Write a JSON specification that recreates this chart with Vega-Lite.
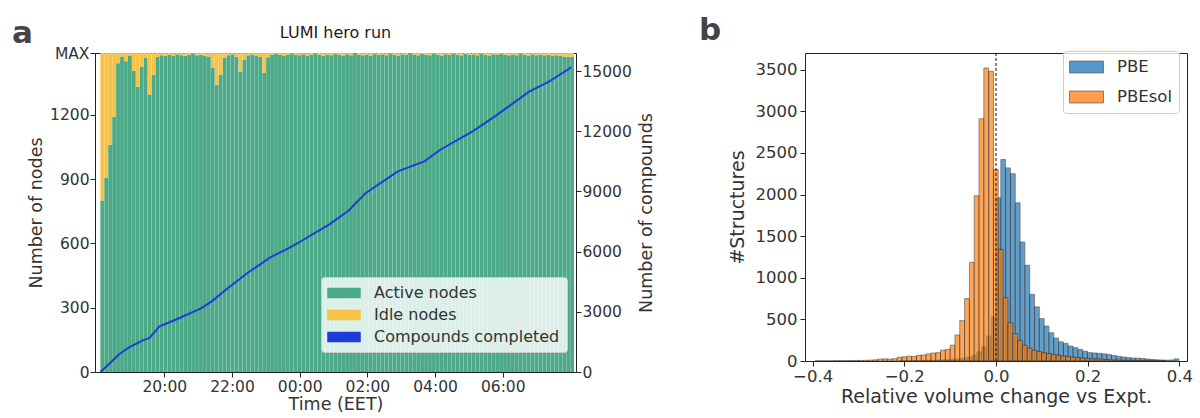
{
  "$schema": "https://vega.github.io/schema/vega-lite/v6.json",
  "background": "white",
  "padding": {"left": 12, "top": 14, "right": 5, "bottom": 0},
  "spacing": 42,
  "resolve": {"scale": {"color": "independent"}, "legend": {"color": "independent"}},
  "config": {
    "font": "DejaVu Sans",
    "view": {"stroke": "#222222", "strokeWidth": 1},
    "axis": {
      "domain": false, "grid": false, "tickColor": "#222222", "tickSize": 5, "tickWidth": 1,
      "labelFont": "DejaVu Sans", "labelColor": "#333333", "titleFont": "DejaVu Sans",
      "titleColor": "#333333", "titleFontWeight": "normal", "labelPadding": 3
    },
    "title": {"font": "DejaVu Sans", "color": "#222222", "fontWeight": "normal", "fontSize": 16},
    "legend": {"labelFont": "DejaVu Sans", "labelColor": "#333333"}
  },
  "datasets": {
    "nodes": [
      {"time": "2024-05-10T18:10", "active": 800, "idle": 688},
      {"time": "2024-05-10T18:17", "active": 905, "idle": 583},
      {"time": "2024-05-10T18:24", "active": 1060, "idle": 428},
      {"time": "2024-05-10T18:31", "active": 1190, "idle": 298},
      {"time": "2024-05-10T18:38", "active": 1440, "idle": 48},
      {"time": "2024-05-10T18:45", "active": 1472, "idle": 16},
      {"time": "2024-05-10T18:52", "active": 1450, "idle": 38},
      {"time": "2024-05-10T18:59", "active": 1476, "idle": 12},
      {"time": "2024-05-10T19:06", "active": 1405, "idle": 83},
      {"time": "2024-05-10T19:13", "active": 1330, "idle": 158},
      {"time": "2024-05-10T19:20", "active": 1425, "idle": 63},
      {"time": "2024-05-10T19:27", "active": 1465, "idle": 23},
      {"time": "2024-05-10T19:34", "active": 1295, "idle": 193},
      {"time": "2024-05-10T19:41", "active": 1385, "idle": 103},
      {"time": "2024-05-10T19:48", "active": 1470, "idle": 18},
      {"time": "2024-05-10T19:55", "active": 1478, "idle": 10},
      {"time": "2024-05-10T20:02", "active": 1474, "idle": 14},
      {"time": "2024-05-10T20:09", "active": 1480, "idle": 8},
      {"time": "2024-05-10T20:16", "active": 1476, "idle": 12},
      {"time": "2024-05-10T20:23", "active": 1482, "idle": 6},
      {"time": "2024-05-10T20:30", "active": 1478, "idle": 10},
      {"time": "2024-05-10T20:37", "active": 1475, "idle": 13},
      {"time": "2024-05-10T20:44", "active": 1480, "idle": 8},
      {"time": "2024-05-10T20:51", "active": 1484, "idle": 4},
      {"time": "2024-05-10T20:58", "active": 1477, "idle": 11},
      {"time": "2024-05-10T21:05", "active": 1480, "idle": 8},
      {"time": "2024-05-10T21:12", "active": 1476, "idle": 12},
      {"time": "2024-05-10T21:19", "active": 1472, "idle": 16},
      {"time": "2024-05-10T21:26", "active": 1420, "idle": 68},
      {"time": "2024-05-10T21:33", "active": 1340, "idle": 148},
      {"time": "2024-05-10T21:40", "active": 1385, "idle": 103},
      {"time": "2024-05-10T21:47", "active": 1466, "idle": 22},
      {"time": "2024-05-10T21:54", "active": 1478, "idle": 10},
      {"time": "2024-05-10T22:01", "active": 1482, "idle": 6},
      {"time": "2024-05-10T22:08", "active": 1470, "idle": 18},
      {"time": "2024-05-10T22:15", "active": 1400, "idle": 88},
      {"time": "2024-05-10T22:22", "active": 1455, "idle": 33},
      {"time": "2024-05-10T22:29", "active": 1478, "idle": 10},
      {"time": "2024-05-10T22:36", "active": 1481, "idle": 7},
      {"time": "2024-05-10T22:43", "active": 1476, "idle": 12},
      {"time": "2024-05-10T22:50", "active": 1470, "idle": 18},
      {"time": "2024-05-10T22:57", "active": 1395, "idle": 93},
      {"time": "2024-05-10T23:04", "active": 1468, "idle": 20},
      {"time": "2024-05-10T23:11", "active": 1479, "idle": 9},
      {"time": "2024-05-10T23:18", "active": 1483, "idle": 5},
      {"time": "2024-05-10T23:25", "active": 1480, "idle": 8},
      {"time": "2024-05-10T23:32", "active": 1476, "idle": 12},
      {"time": "2024-05-10T23:39", "active": 1479, "idle": 9},
      {"time": "2024-05-10T23:46", "active": 1484, "idle": 4},
      {"time": "2024-05-10T23:53", "active": 1480, "idle": 8},
      {"time": "2024-05-11T00:00", "active": 1478, "idle": 10},
      {"time": "2024-05-11T00:07", "active": 1482, "idle": 6},
      {"time": "2024-05-11T00:14", "active": 1476, "idle": 12},
      {"time": "2024-05-11T00:21", "active": 1480, "idle": 8},
      {"time": "2024-05-11T00:28", "active": 1484, "idle": 4},
      {"time": "2024-05-11T00:35", "active": 1479, "idle": 9},
      {"time": "2024-05-11T00:42", "active": 1474, "idle": 14},
      {"time": "2024-05-11T00:49", "active": 1481, "idle": 7},
      {"time": "2024-05-11T00:56", "active": 1477, "idle": 11},
      {"time": "2024-05-11T01:03", "active": 1483, "idle": 5},
      {"time": "2024-05-11T01:10", "active": 1480, "idle": 8},
      {"time": "2024-05-11T01:17", "active": 1476, "idle": 12},
      {"time": "2024-05-11T01:24", "active": 1482, "idle": 6},
      {"time": "2024-05-11T01:31", "active": 1478, "idle": 10},
      {"time": "2024-05-11T01:38", "active": 1485, "idle": 3},
      {"time": "2024-05-11T01:45", "active": 1480, "idle": 8},
      {"time": "2024-05-11T01:52", "active": 1477, "idle": 11},
      {"time": "2024-05-11T01:59", "active": 1481, "idle": 7},
      {"time": "2024-05-11T02:06", "active": 1476, "idle": 12},
      {"time": "2024-05-11T02:13", "active": 1483, "idle": 5},
      {"time": "2024-05-11T02:20", "active": 1479, "idle": 9},
      {"time": "2024-05-11T02:27", "active": 1482, "idle": 6},
      {"time": "2024-05-11T02:34", "active": 1478, "idle": 10},
      {"time": "2024-05-11T02:41", "active": 1484, "idle": 4},
      {"time": "2024-05-11T02:48", "active": 1480, "idle": 8},
      {"time": "2024-05-11T02:55", "active": 1476, "idle": 12},
      {"time": "2024-05-11T03:02", "active": 1482, "idle": 6},
      {"time": "2024-05-11T03:09", "active": 1479, "idle": 9},
      {"time": "2024-05-11T03:16", "active": 1485, "idle": 3},
      {"time": "2024-05-11T03:23", "active": 1481, "idle": 7},
      {"time": "2024-05-11T03:30", "active": 1477, "idle": 11},
      {"time": "2024-05-11T03:37", "active": 1483, "idle": 5},
      {"time": "2024-05-11T03:44", "active": 1480, "idle": 8},
      {"time": "2024-05-11T03:51", "active": 1478, "idle": 10},
      {"time": "2024-05-11T03:58", "active": 1484, "idle": 4},
      {"time": "2024-05-11T04:05", "active": 1481, "idle": 7},
      {"time": "2024-05-11T04:12", "active": 1476, "idle": 12},
      {"time": "2024-05-11T04:19", "active": 1482, "idle": 6},
      {"time": "2024-05-11T04:26", "active": 1479, "idle": 9},
      {"time": "2024-05-11T04:33", "active": 1484, "idle": 4},
      {"time": "2024-05-11T04:40", "active": 1480, "idle": 8},
      {"time": "2024-05-11T04:47", "active": 1477, "idle": 11},
      {"time": "2024-05-11T04:54", "active": 1483, "idle": 5},
      {"time": "2024-05-11T05:01", "active": 1479, "idle": 9},
      {"time": "2024-05-11T05:08", "active": 1482, "idle": 6},
      {"time": "2024-05-11T05:15", "active": 1478, "idle": 10},
      {"time": "2024-05-11T05:22", "active": 1484, "idle": 4},
      {"time": "2024-05-11T05:29", "active": 1480, "idle": 8},
      {"time": "2024-05-11T05:36", "active": 1476, "idle": 12},
      {"time": "2024-05-11T05:43", "active": 1482, "idle": 6},
      {"time": "2024-05-11T05:50", "active": 1479, "idle": 9},
      {"time": "2024-05-11T05:57", "active": 1483, "idle": 5},
      {"time": "2024-05-11T06:04", "active": 1480, "idle": 8},
      {"time": "2024-05-11T06:11", "active": 1477, "idle": 11},
      {"time": "2024-05-11T06:18", "active": 1481, "idle": 7},
      {"time": "2024-05-11T06:25", "active": 1478, "idle": 10},
      {"time": "2024-05-11T06:32", "active": 1484, "idle": 4},
      {"time": "2024-05-11T06:39", "active": 1480, "idle": 8},
      {"time": "2024-05-11T06:46", "active": 1476, "idle": 12},
      {"time": "2024-05-11T06:53", "active": 1482, "idle": 6},
      {"time": "2024-05-11T07:00", "active": 1478, "idle": 10},
      {"time": "2024-05-11T07:07", "active": 1481, "idle": 7},
      {"time": "2024-05-11T07:14", "active": 1477, "idle": 11},
      {"time": "2024-05-11T07:21", "active": 1480, "idle": 8},
      {"time": "2024-05-11T07:28", "active": 1476, "idle": 12},
      {"time": "2024-05-11T07:35", "active": 1478, "idle": 10},
      {"time": "2024-05-11T07:42", "active": 1474, "idle": 14},
      {"time": "2024-05-11T07:49", "active": 1472, "idle": 16},
      {"time": "2024-05-11T07:56", "active": 1470, "idle": 18},
      {"time": "2024-05-11T08:03", "active": 1471, "idle": 17}
    ],
    "compounds": [
      {"time": "2024-05-10T18:07", "completed": 0},
      {"time": "2024-05-10T18:41", "completed": 910},
      {"time": "2024-05-10T18:59", "completed": 1250},
      {"time": "2024-05-10T19:22", "completed": 1580},
      {"time": "2024-05-10T19:34", "completed": 1700},
      {"time": "2024-05-10T19:51", "completed": 2260},
      {"time": "2024-05-10T20:26", "completed": 2680},
      {"time": "2024-05-10T21:06", "completed": 3180},
      {"time": "2024-05-10T21:24", "completed": 3520},
      {"time": "2024-05-10T21:53", "completed": 4190},
      {"time": "2024-05-10T22:28", "completed": 4950},
      {"time": "2024-05-10T23:08", "completed": 5710},
      {"time": "2024-05-10T23:43", "completed": 6210},
      {"time": "2024-05-11T00:00", "completed": 6480},
      {"time": "2024-05-11T00:52", "completed": 7350},
      {"time": "2024-05-11T01:27", "completed": 8050},
      {"time": "2024-05-11T01:56", "completed": 8900},
      {"time": "2024-05-11T02:54", "completed": 10000},
      {"time": "2024-05-11T03:41", "completed": 10500},
      {"time": "2024-05-11T04:10", "completed": 11090},
      {"time": "2024-05-11T05:08", "completed": 12020},
      {"time": "2024-05-11T05:48", "completed": 12780},
      {"time": "2024-05-11T06:46", "completed": 13960},
      {"time": "2024-05-11T07:21", "completed": 14460},
      {"time": "2024-05-11T07:59", "completed": 15140},
      {"time": "2024-05-11T08:01", "completed": 15200}
    ],
    "volume": [
      {"functional": "PBE", "bin_start": -0.21, "bin_end": -0.1995, "count": 3},
      {"functional": "PBE", "bin_start": -0.1995, "bin_end": -0.189, "count": 4},
      {"functional": "PBE", "bin_start": -0.189, "bin_end": -0.1785, "count": 4},
      {"functional": "PBE", "bin_start": -0.1785, "bin_end": -0.168, "count": 5},
      {"functional": "PBE", "bin_start": -0.168, "bin_end": -0.1575, "count": 6},
      {"functional": "PBE", "bin_start": -0.1575, "bin_end": -0.147, "count": 7},
      {"functional": "PBE", "bin_start": -0.147, "bin_end": -0.1365, "count": 8},
      {"functional": "PBE", "bin_start": -0.1365, "bin_end": -0.126, "count": 10},
      {"functional": "PBE", "bin_start": -0.126, "bin_end": -0.1155, "count": 12},
      {"functional": "PBE", "bin_start": -0.1155, "bin_end": -0.105, "count": 15},
      {"functional": "PBE", "bin_start": -0.105, "bin_end": -0.0945, "count": 18},
      {"functional": "PBE", "bin_start": -0.0945, "bin_end": -0.084, "count": 22},
      {"functional": "PBE", "bin_start": -0.084, "bin_end": -0.0735, "count": 28},
      {"functional": "PBE", "bin_start": -0.0735, "bin_end": -0.063, "count": 35},
      {"functional": "PBE", "bin_start": -0.063, "bin_end": -0.0525, "count": 50},
      {"functional": "PBE", "bin_start": -0.0525, "bin_end": -0.042, "count": 70},
      {"functional": "PBE", "bin_start": -0.042, "bin_end": -0.0315, "count": 110},
      {"functional": "PBE", "bin_start": -0.0315, "bin_end": -0.021, "count": 170},
      {"functional": "PBE", "bin_start": -0.021, "bin_end": -0.0105, "count": 300},
      {"functional": "PBE", "bin_start": -0.0105, "bin_end": 0.0, "count": 530},
      {"functional": "PBE", "bin_start": 0.0, "bin_end": 0.0105, "count": 1960},
      {"functional": "PBE", "bin_start": 0.0105, "bin_end": 0.021, "count": 2420},
      {"functional": "PBE", "bin_start": 0.021, "bin_end": 0.0315, "count": 2320},
      {"functional": "PBE", "bin_start": 0.0315, "bin_end": 0.042, "count": 2250},
      {"functional": "PBE", "bin_start": 0.042, "bin_end": 0.0525, "count": 1900},
      {"functional": "PBE", "bin_start": 0.0525, "bin_end": 0.063, "count": 1430},
      {"functional": "PBE", "bin_start": 0.063, "bin_end": 0.0735, "count": 1150},
      {"functional": "PBE", "bin_start": 0.0735, "bin_end": 0.084, "count": 800},
      {"functional": "PBE", "bin_start": 0.084, "bin_end": 0.0945, "count": 650},
      {"functional": "PBE", "bin_start": 0.0945, "bin_end": 0.105, "count": 510},
      {"functional": "PBE", "bin_start": 0.105, "bin_end": 0.1155, "count": 420},
      {"functional": "PBE", "bin_start": 0.1155, "bin_end": 0.126, "count": 340},
      {"functional": "PBE", "bin_start": 0.126, "bin_end": 0.1365, "count": 275},
      {"functional": "PBE", "bin_start": 0.1365, "bin_end": 0.147, "count": 230},
      {"functional": "PBE", "bin_start": 0.147, "bin_end": 0.1575, "count": 212},
      {"functional": "PBE", "bin_start": 0.1575, "bin_end": 0.168, "count": 180},
      {"functional": "PBE", "bin_start": 0.168, "bin_end": 0.1785, "count": 160},
      {"functional": "PBE", "bin_start": 0.1785, "bin_end": 0.189, "count": 140},
      {"functional": "PBE", "bin_start": 0.189, "bin_end": 0.1995, "count": 118},
      {"functional": "PBE", "bin_start": 0.1995, "bin_end": 0.21, "count": 100},
      {"functional": "PBE", "bin_start": 0.21, "bin_end": 0.2205, "count": 96},
      {"functional": "PBE", "bin_start": 0.2205, "bin_end": 0.231, "count": 92},
      {"functional": "PBE", "bin_start": 0.231, "bin_end": 0.2415, "count": 86},
      {"functional": "PBE", "bin_start": 0.2415, "bin_end": 0.252, "count": 78},
      {"functional": "PBE", "bin_start": 0.252, "bin_end": 0.2625, "count": 66},
      {"functional": "PBE", "bin_start": 0.2625, "bin_end": 0.273, "count": 56},
      {"functional": "PBE", "bin_start": 0.273, "bin_end": 0.2835, "count": 48},
      {"functional": "PBE", "bin_start": 0.2835, "bin_end": 0.294, "count": 40},
      {"functional": "PBE", "bin_start": 0.294, "bin_end": 0.3045, "count": 36},
      {"functional": "PBE", "bin_start": 0.3045, "bin_end": 0.315, "count": 34},
      {"functional": "PBE", "bin_start": 0.315, "bin_end": 0.3255, "count": 30},
      {"functional": "PBE", "bin_start": 0.3255, "bin_end": 0.336, "count": 24},
      {"functional": "PBE", "bin_start": 0.336, "bin_end": 0.3465, "count": 18},
      {"functional": "PBE", "bin_start": 0.3465, "bin_end": 0.357, "count": 14},
      {"functional": "PBE", "bin_start": 0.357, "bin_end": 0.3675, "count": 12},
      {"functional": "PBE", "bin_start": 0.3675, "bin_end": 0.378, "count": 10},
      {"functional": "PBE", "bin_start": 0.378, "bin_end": 0.3885, "count": 12},
      {"functional": "PBE", "bin_start": 0.3885, "bin_end": 0.399, "count": 25},
      {"functional": "PBEsol", "bin_start": -0.394, "bin_end": -0.3835, "count": 3},
      {"functional": "PBEsol", "bin_start": -0.3835, "bin_end": -0.373, "count": 3},
      {"functional": "PBEsol", "bin_start": -0.373, "bin_end": -0.3625, "count": 2},
      {"functional": "PBEsol", "bin_start": -0.3625, "bin_end": -0.352, "count": 3},
      {"functional": "PBEsol", "bin_start": -0.352, "bin_end": -0.3415, "count": 4},
      {"functional": "PBEsol", "bin_start": -0.3415, "bin_end": -0.331, "count": 4},
      {"functional": "PBEsol", "bin_start": -0.331, "bin_end": -0.3205, "count": 5},
      {"functional": "PBEsol", "bin_start": -0.3205, "bin_end": -0.31, "count": 5},
      {"functional": "PBEsol", "bin_start": -0.31, "bin_end": -0.2995, "count": 6},
      {"functional": "PBEsol", "bin_start": -0.2995, "bin_end": -0.289, "count": 7},
      {"functional": "PBEsol", "bin_start": -0.289, "bin_end": -0.2785, "count": 8},
      {"functional": "PBEsol", "bin_start": -0.2785, "bin_end": -0.268, "count": 10},
      {"functional": "PBEsol", "bin_start": -0.268, "bin_end": -0.2575, "count": 14},
      {"functional": "PBEsol", "bin_start": -0.2575, "bin_end": -0.247, "count": 22},
      {"functional": "PBEsol", "bin_start": -0.247, "bin_end": -0.2365, "count": 26},
      {"functional": "PBEsol", "bin_start": -0.2365, "bin_end": -0.226, "count": 22},
      {"functional": "PBEsol", "bin_start": -0.226, "bin_end": -0.2155, "count": 28},
      {"functional": "PBEsol", "bin_start": -0.2155, "bin_end": -0.205, "count": 45},
      {"functional": "PBEsol", "bin_start": -0.205, "bin_end": -0.1945, "count": 50},
      {"functional": "PBEsol", "bin_start": -0.1945, "bin_end": -0.184, "count": 58},
      {"functional": "PBEsol", "bin_start": -0.184, "bin_end": -0.1735, "count": 55},
      {"functional": "PBEsol", "bin_start": -0.1735, "bin_end": -0.163, "count": 68},
      {"functional": "PBEsol", "bin_start": -0.163, "bin_end": -0.1525, "count": 72},
      {"functional": "PBEsol", "bin_start": -0.1525, "bin_end": -0.142, "count": 85},
      {"functional": "PBEsol", "bin_start": -0.142, "bin_end": -0.1315, "count": 95},
      {"functional": "PBEsol", "bin_start": -0.1315, "bin_end": -0.121, "count": 100},
      {"functional": "PBEsol", "bin_start": -0.121, "bin_end": -0.1105, "count": 130},
      {"functional": "PBEsol", "bin_start": -0.1105, "bin_end": -0.1, "count": 140},
      {"functional": "PBEsol", "bin_start": -0.1, "bin_end": -0.0895, "count": 190},
      {"functional": "PBEsol", "bin_start": -0.0895, "bin_end": -0.079, "count": 312},
      {"functional": "PBEsol", "bin_start": -0.079, "bin_end": -0.0685, "count": 485},
      {"functional": "PBEsol", "bin_start": -0.0685, "bin_end": -0.058, "count": 750},
      {"functional": "PBEsol", "bin_start": -0.058, "bin_end": -0.0475, "count": 1185},
      {"functional": "PBEsol", "bin_start": -0.0475, "bin_end": -0.037, "count": 1985},
      {"functional": "PBEsol", "bin_start": -0.037, "bin_end": -0.0265, "count": 2910},
      {"functional": "PBEsol", "bin_start": -0.0265, "bin_end": -0.016, "count": 3520},
      {"functional": "PBEsol", "bin_start": -0.016, "bin_end": -0.0055, "count": 3480},
      {"functional": "PBEsol", "bin_start": -0.0055, "bin_end": 0.005, "count": 2300},
      {"functional": "PBEsol", "bin_start": 0.005, "bin_end": 0.0155, "count": 1340},
      {"functional": "PBEsol", "bin_start": 0.0155, "bin_end": 0.026, "count": 760},
      {"functional": "PBEsol", "bin_start": 0.026, "bin_end": 0.0365, "count": 460},
      {"functional": "PBEsol", "bin_start": 0.0365, "bin_end": 0.047, "count": 330},
      {"functional": "PBEsol", "bin_start": 0.047, "bin_end": 0.0575, "count": 250},
      {"functional": "PBEsol", "bin_start": 0.0575, "bin_end": 0.068, "count": 190},
      {"functional": "PBEsol", "bin_start": 0.068, "bin_end": 0.0785, "count": 155},
      {"functional": "PBEsol", "bin_start": 0.0785, "bin_end": 0.089, "count": 130},
      {"functional": "PBEsol", "bin_start": 0.089, "bin_end": 0.0995, "count": 115},
      {"functional": "PBEsol", "bin_start": 0.0995, "bin_end": 0.11, "count": 100},
      {"functional": "PBEsol", "bin_start": 0.11, "bin_end": 0.1205, "count": 90},
      {"functional": "PBEsol", "bin_start": 0.1205, "bin_end": 0.131, "count": 80},
      {"functional": "PBEsol", "bin_start": 0.131, "bin_end": 0.1415, "count": 70},
      {"functional": "PBEsol", "bin_start": 0.1415, "bin_end": 0.152, "count": 62},
      {"functional": "PBEsol", "bin_start": 0.152, "bin_end": 0.1625, "count": 55},
      {"functional": "PBEsol", "bin_start": 0.1625, "bin_end": 0.173, "count": 48},
      {"functional": "PBEsol", "bin_start": 0.173, "bin_end": 0.1835, "count": 42},
      {"functional": "PBEsol", "bin_start": 0.1835, "bin_end": 0.194, "count": 38},
      {"functional": "PBEsol", "bin_start": 0.194, "bin_end": 0.2045, "count": 32},
      {"functional": "PBEsol", "bin_start": 0.2045, "bin_end": 0.215, "count": 28},
      {"functional": "PBEsol", "bin_start": 0.215, "bin_end": 0.2255, "count": 25},
      {"functional": "PBEsol", "bin_start": 0.2255, "bin_end": 0.236, "count": 22},
      {"functional": "PBEsol", "bin_start": 0.236, "bin_end": 0.2465, "count": 18},
      {"functional": "PBEsol", "bin_start": 0.2465, "bin_end": 0.257, "count": 15},
      {"functional": "PBEsol", "bin_start": 0.257, "bin_end": 0.2675, "count": 12},
      {"functional": "PBEsol", "bin_start": 0.2675, "bin_end": 0.278, "count": 10},
      {"functional": "PBEsol", "bin_start": 0.278, "bin_end": 0.2885, "count": 9},
      {"functional": "PBEsol", "bin_start": 0.2885, "bin_end": 0.299, "count": 8},
      {"functional": "PBEsol", "bin_start": 0.299, "bin_end": 0.3095, "count": 7},
      {"functional": "PBEsol", "bin_start": 0.3095, "bin_end": 0.32, "count": 6},
      {"functional": "PBEsol", "bin_start": 0.32, "bin_end": 0.3305, "count": 5},
      {"functional": "PBEsol", "bin_start": 0.3305, "bin_end": 0.341, "count": 5},
      {"functional": "PBEsol", "bin_start": 0.341, "bin_end": 0.3515, "count": 4},
      {"functional": "PBEsol", "bin_start": 0.3515, "bin_end": 0.362, "count": 3},
      {"functional": "PBEsol", "bin_start": 0.362, "bin_end": 0.3725, "count": 3}
    ]
  },
  "hconcat": [
    {
      "title": {"text": "a", "anchor": "start", "frame": "bounds", "fontSize": 31, "fontWeight": "bold", "color": "#444444", "offset": -25, "dx": -15},
      "vconcat": [
        {
          "width": 481,
          "height": 319,
          "title": {"text": "LUMI hero run", "offset": 5},
          "layer": [
            {
              "data": {"name": "nodes"},
              "transform": [{"fold": ["active", "idle"], "as": ["state", "nodes"]}],
              "mark": {"type": "bar", "size": 3.8, "clip": true},
              "encoding": {
                "x": {
                  "field": "time", "type": "temporal",
                  "scale": {"domain": [
                    {"year": 2024, "month": 5, "date": 10, "hours": 18, "minutes": 6},
                    {"year": 2024, "month": 5, "date": 11, "hours": 8, "minutes": 1}
                  ]},
                  "axis": {
                    "title": "Time (EET)", "format": "%H:%M",
                    "values": [
                      {"year": 2024, "month": 5, "date": 10, "hours": 20},
                      {"year": 2024, "month": 5, "date": 10, "hours": 22},
                      {"year": 2024, "month": 5, "date": 11, "hours": 0},
                      {"year": 2024, "month": 5, "date": 11, "hours": 2},
                      {"year": 2024, "month": 5, "date": 11, "hours": 4},
                      {"year": 2024, "month": 5, "date": 11, "hours": 6}
                    ],
                    "labelFontSize": 15.5, "titleFontSize": 17.5, "labelPadding": 2, "titlePadding": 1
                  }
                },
                "y": {
                  "field": "nodes", "type": "quantitative", "stack": "zero",
                  "scale": {"domain": [0, 1488], "nice": false},
                  "axis": {"title": "Number of nodes", "values": [0, 300, 600, 900, 1200, 1488], "format": "d", "labelExpr": "datum.value === 1488 ? 'MAX' : datum.label", "labelFontSize": 15.5, "titleFontSize": 17.5, "labelPadding": 1, "titlePadding": 4}
                },
                "color": {
                  "field": "state", "type": "nominal",
                  "scale": {"domain": ["active", "idle", "compounds"], "range": ["#4daa89", "#f7c346", "#1e3cdc"]},
                  "legend": {
                    "title": null, "orient": "none", "legendX": 226, "legendY": 224,
                    "labelExpr": "datum.value === 'active' ? 'Active nodes' : datum.value === 'idle' ? 'Idle nodes' : 'Compounds completed'",
                    "labelFontSize": 16, "labelLimit": 260, "symbolType": "M-2,-0.55H2V0.55H-2Z", "symbolSize": 256,
                    "symbolOffset": 7, "labelOffset": 21, "rowPadding": 5, "padding": 7,
                    "fillColor": "rgba(255,255,255,0.8)", "strokeColor": "#cccccc", "cornerRadius": 3
                  }
                },
                "order": {"field": "state", "type": "nominal", "sort": "ascending"}
              }
            },
            {
              "data": {"name": "compounds"},
              "mark": {"type": "line", "strokeWidth": 2, "clip": true},
              "encoding": {
                "x": {"field": "time", "type": "temporal"},
                "y": {
                  "field": "completed", "type": "quantitative",
                  "scale": {"domain": [0, 15900], "nice": false},
                  "axis": {"orient": "right", "title": "Number of compounds", "titleAngle": 270, "titleBaseline": "top", "values": [0, 3000, 6000, 9000, 12000, 15000], "format": "d", "labelFontSize": 15.5, "titleFontSize": 17.5, "labelPadding": 1, "titlePadding": 6}
                },
                "color": {"datum": "compounds", "type": "nominal"}
              }
            }
          ],
          "resolve": {"scale": {"y": "independent"}}
        }
      ]
    },
    {
      "title": {"text": "b", "anchor": "start", "frame": "bounds", "fontSize": 31, "fontWeight": "bold", "color": "#444444", "offset": 4, "dx": -29},
      "width": 382,
      "height": 308,
      "layer": [
        {
          "data": {"name": "volume"},
          "mark": {"type": "bar", "orient": "vertical", "opacity": 0.7, "stroke": "#222222", "strokeWidth": 0.7},
          "encoding": {
            "x": {
              "field": "bin_start", "type": "quantitative",
              "scale": {"domain": [-0.4057, 0.4057], "nice": false, "zero": false},
              "axis": {"title": "Relative volume change vs Expt.", "values": [-0.4, -0.2, 0, 0.2, 0.4], "format": ".1f", "labelExpr": "replace(datum.label, '-', '\u2212')", "labelFontSize": 16.5, "titleFontSize": 19, "labelPadding": 2, "titlePadding": 3}
            },
            "x2": {"field": "bin_end"},
            "y": {
              "field": "count", "type": "quantitative", "stack": null,
              "scale": {"domain": [0, 3700], "nice": false},
              "axis": {"title": "#Structures", "values": [0, 500, 1000, 1500, 2000, 2500, 3000, 3500], "format": "d", "labelFontSize": 16.5, "titleFontSize": 19, "titlePadding": 8}
            },
            "color": {
              "field": "functional", "type": "nominal",
              "scale": {"domain": ["PBE", "PBEsol"], "range": ["#1f77b4", "#ff7f0e"]},
              "legend": {
                "title": null, "orient": "none", "legendX": 258, "legendY": -2,
                "labelFontSize": 16.5, "symbolType": "M-2,-0.7H2V0.7H-2Z", "symbolSize": 289,
                "symbolOffset": 7.5, "labelOffset": 21.5, "rowPadding": 12, "padding": 7,
                "symbolStrokeColor": "#333333", "symbolStrokeWidth": 0.8, "symbolOpacity": 0.75,
                "fillColor": "rgba(255,255,255,0.8)", "strokeColor": "#cccccc", "cornerRadius": 3
              }
            }
          }
        },
        {
          "data": {"values": [{"ref": 0}]},
          "mark": {"type": "rule", "strokeDash": [3, 2], "color": "#111111", "strokeWidth": 1},
          "encoding": {"x": {"field": "ref", "type": "quantitative"}}
        }
      ]
    }
  ]
}
